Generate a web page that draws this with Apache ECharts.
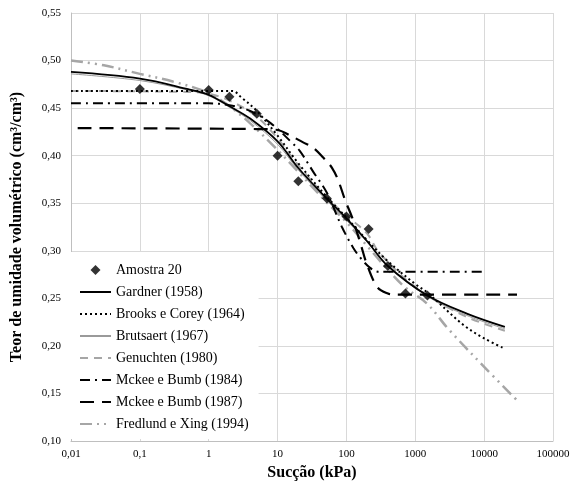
<!DOCTYPE html>
<html>
<head>
<meta charset="utf-8">
<script src="https://cdn.jsdelivr.net/npm/echarts@6/dist/echarts.min.js"></script>
<style>html,body{margin:0;padding:0;background:#fff}#c{width:581px;height:488px}</style>
</head>
<body>
<div id="c"></div>
<script>
// ---- data (suction in kPa, volumetric water content) ----
var xTicks = [0.01, 0.1, 1, 10, 100, 1000, 10000, 100000];
var yTicks = [0.10, 0.15, 0.20, 0.25, 0.30, 0.35, 0.40, 0.45, 0.50, 0.55];

var amostra20 = [[0.1,0.470],[1,0.469],[2,0.462],[5,0.444],[10,0.400],[20,0.373],
  [52,0.355],[100,0.336],[210,0.323],[400,0.284],[720,0.255],[1500,0.253]];

var gardner = [[0.01,0.488],[0.1,0.481],[0.5,0.470],[1,0.464],[2,0.452],[4,0.439],
  [10,0.415],[20,0.387],[50,0.356],[100,0.334],[200,0.310],[400,0.284],[1500,0.253],
  [5600,0.234],[20000,0.220]];

var brooksCorey = [[0.01,0.468],[2.2,0.468],[3,0.461],[5,0.447],[10,0.421],[20,0.392],
  [50,0.358],[100,0.335],[200,0.311],[400,0.289],[1000,0.265],[1500,0.256],[5000,0.222],
  [10000,0.208],[20000,0.197]];

var brutsaert = [[0.01,0.486],[0.1,0.479],[0.5,0.469],[1,0.463],[2,0.451],[4,0.437],
  [10,0.412],[20,0.385],[50,0.354],[100,0.332],[200,0.309],[400,0.284],[1500,0.252],
  [5600,0.232],[20000,0.218]];

var genuchten = [[0.01,0.468],[0.5,0.467],[1,0.465],[2,0.458],[5,0.441],[10,0.418],
  [20,0.390],[50,0.357],[100,0.337],[200,0.318],[300,0.298],[1000,0.262],[5000,0.232],
  [20000,0.216]];

var mckee1984 = [[0.01,0.455],[1,0.455],[2,0.453],[4,0.447],[8,0.434],[16,0.414],
  [21,0.405],[33,0.383],[52,0.361],[86,0.325],[126,0.303],[158,0.293],[221,0.282],
  [288,0.278],[10000,0.278]];

var mckee1987 = [[0.0125,0.429],[5,0.428],[10,0.427],[15,0.4215],[23.5,0.414],[32,0.409],
  [46,0.398],[62,0.387],[76,0.374],[96,0.353],[121,0.335],[158,0.309],[200,0.285],
  [280,0.262],[400,0.255],[500,0.254],[30000,0.254]];

var fredlundXing = [[0.01,0.500],[0.03,0.495],[0.1,0.486],[0.3,0.478],[1,0.466],[2,0.452],
  [4,0.434],[10,0.406],[20,0.383],[50,0.352],[100,0.330],[200,0.305],[400,0.280],
  [700,0.262],[1500,0.244],[3000,0.218],[10000,0.178],[31400,0.1414]];

var names = ['Amostra 20','Gardner (1958)','Brooks e Corey (1964)','Brutsaert (1967)',
  'Genuchten (1980)','Mckee e Bumb (1984)','Mckee e Bumb (1987)','Fredlund e Xing (1994)'];

var FONT = '"Liberation Serif", "Times New Roman", serif';

function fmtX(v){
  var n = Math.round(Math.log10(v));
  if (n < 0) return v.toFixed(-n).replace('.', ',');
  return String(Math.round(v));
}

function lineSeries(name, data, color, width, type, z){
  return {
    name: name, type: 'line', data: data, smooth: 0.35, symbol: 'none', z: z || 2,
    lineStyle: { color: color, width: width, type: type },
    itemStyle: { color: color }
  };
}

var chart = echarts.init(document.getElementById('c'), null, {renderer: 'canvas'});
chart.setOption({
  animation: false,
  backgroundColor: '#fff',
  grid: { left: 71, right: 28, top: 13, bottom: 47, containLabel: false },
  xAxis: {
    type: 'log', logBase: 10, min: xTicks[0], max: xTicks[xTicks.length-1],
    name: 'Sucção (kPa)', nameLocation: 'middle', nameGap: 22,
    nameTextStyle: { fontFamily: FONT, fontSize: 16, fontWeight: 'bold', color: '#000' },
    axisLine: { show: true, lineStyle: { color: '#bfbfbf', width: 1 } },
    axisTick: { show: false },
    axisLabel: { fontFamily: FONT, fontSize: 11, color: '#000', margin: 8, formatter: fmtX },
    splitLine: { show: true, lineStyle: { color: '#d9d9d9', width: 1 } },
    minorTick: { show: false }
  },
  yAxis: {
    type: 'value', min: yTicks[0], max: yTicks[yTicks.length-1], interval: 0.05,
    name: 'Teor de umidade volumétrico (cm³/cm³)', nameLocation: 'middle', nameGap: 46,
    nameTextStyle: { fontFamily: FONT, fontSize: 16, fontWeight: 'bold', color: '#000' },
    axisLine: { show: true, lineStyle: { color: '#bfbfbf', width: 1 } },
    axisTick: { show: false },
    axisLabel: { fontFamily: FONT, fontSize: 11, color: '#000', margin: 10,
      formatter: function(v){ return v.toFixed(2).replace('.', ','); } },
    splitLine: { show: true, lineStyle: { color: '#d9d9d9', width: 1 } }
  },
  legend: {
    orient: 'vertical', left: 71, top: 252,
    padding: [11, 10, 8, 8],
    backgroundColor: '#fff',
    itemWidth: 31, itemHeight: 12, itemGap: 8,
    textStyle: { fontFamily: FONT, fontSize: 14, color: '#000' },
    data: names.map(function(n, i){
      return i === 0
        ? { name: n, icon: 'path://M0 0M31 12M15.5 1L20.5 6L15.5 11L10.5 6Z' }
        : { name: n, itemStyle: { opacity: 0 } };
    })
  },
  series: [
    lineSeries(names[1], gardner, '#000000', 1.8, 'solid', 3),
    lineSeries(names[2], brooksCorey, '#000000', 2, [2, 3], 3),
    lineSeries(names[3], brutsaert, '#9a9a9a', 1, 'solid', 2),
    lineSeries(names[4], genuchten, '#a6a6a6', 2, [8, 6], 2),
    lineSeries(names[5], mckee1984, '#000000', 2, [10, 5, 2, 5], 3),
    lineSeries(names[6], mckee1987, '#000000', 2.2, [14, 8], 3),
    lineSeries(names[7], fredlundXing, '#a6a6a6', 2.5, [12, 5, 2, 5, 2, 5], 2),
    {
      name: names[0], type: 'scatter', data: amostra20, symbol: 'diamond', symbolSize: 10,
      itemStyle: { color: '#000' }, z: 5
    }
  ]
});
</script>
</body>
</html>
